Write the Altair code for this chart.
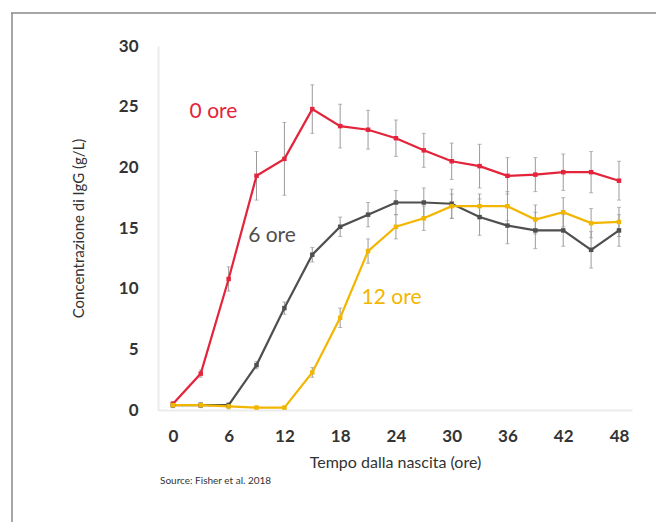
import altair as alt
import pandas as pd

hours = [0, 3, 6, 9, 12, 15, 18, 21, 24, 27, 30, 33, 36, 39, 42, 45, 48]
series_names = ["0 ore", "6 ore", "12 ore"]
igg_0 = [0.5, 3.0, 10.8, 19.3, 20.7, 24.8, 23.4, 23.1, 22.4, 21.4, 20.5, 20.1, 19.3, 19.4, 19.6, 19.6, 18.9]
err_0 = [0.2, 0.3, 1.0, 2.0, 3.0, 2.0, 1.8, 1.6, 1.5, 1.4, 1.5, 1.8, 1.5, 1.4, 1.5, 1.7, 1.6]
igg_6 = [0.4, 0.4, 0.4, 3.7, 8.4, 12.8, 15.1, 16.1, 17.1, 17.1, 17.0, 15.9, 15.2, 14.8, 14.8, 13.2, 14.8]
err_6 = [0.2, 0.2, 0.2, 0.3, 0.5, 0.6, 0.8, 1.0, 1.0, 1.2, 1.2, 1.5, 1.5, 1.5, 1.3, 1.5, 1.3]
igg_12 = [0.4, 0.4, 0.3, 0.2, 0.2, 3.1, 7.6, 13.1, 15.1, 15.8, 16.8, 16.8, 16.8, 15.7, 16.3, 15.4, 15.5]
err_12 = [0.2, 0.2, 0.2, 0.1, 0.1, 0.4, 0.8, 1.0, 1.0, 1.0, 1.0, 1.0, 1.2, 1.2, 1.2, 1.2, 1.2]
colors = ["#e3243b", "#4f4f4f", "#f2b600"]
x_ticks = [0, 6, 12, 18, 24, 30, 36, 42, 48]
y_ticks = [0, 5, 10, 15, 20, 25, 30]
label_x = [1.8, 8.1, 20.3]
label_y = [24.6, 14.3, 9.2]

rows = []
for name, means, errs in zip(series_names, [igg_0, igg_6, igg_12], [err_0, err_6, err_12]):
    for h, m, e in zip(hours, means, errs):
        rows.append({"ore": h, "serie": name, "igg": m, "lo": m - e, "hi": m + e})
df = pd.DataFrame(rows)

xs = alt.Scale(domain=[-1.6, 49.4], nice=False, zero=False)
ys = alt.Scale(domain=[0, 30], nice=False)
cs = alt.Scale(domain=series_names, range=colors)

xaxis = alt.Axis(values=x_ticks, title="Tempo dalla nascita (ore)", grid=False, ticks=False,
                 domainColor="#ebebeb", domainWidth=2, labelFont="Lato", labelFontWeight="bold",
                 labelFontSize=17, labelColor="#333333", labelPadding=18,
                 titleFont="Lato", titleFontWeight="normal", titleFontSize=16, titleColor="#333333",
                 titlePadding=10)
yaxis = alt.Axis(values=y_ticks, title="Concentrazione di IgG (g/L)", grid=False, ticks=False,
                 domainColor="#ebebeb", domainWidth=2, labelFont="Lato", labelFontWeight="bold",
                 labelFontSize=17, labelColor="#333333", labelPadding=20,
                 titleFont="Lato", titleFontWeight="normal", titleFontSize=15, titleColor="#333333",
                 titlePadding=32)

base = alt.Chart(df)

err_rules = base.mark_rule(color="#9a9a9a", strokeWidth=1).encode(
    x=alt.X("ore:Q", scale=xs, axis=xaxis),
    y=alt.Y("lo:Q", scale=ys, axis=yaxis),
    y2="hi:Q",
)
cap_lo = base.mark_tick(color="#9a9a9a", thickness=1, size=4, orient="horizontal").encode(
    x=alt.X("ore:Q", scale=xs), y=alt.Y("lo:Q", scale=ys))
cap_hi = base.mark_tick(color="#9a9a9a", thickness=1, size=4, orient="horizontal").encode(
    x=alt.X("ore:Q", scale=xs), y=alt.Y("hi:Q", scale=ys))

lines = base.mark_line(strokeWidth=2.2, point=alt.OverlayMarkDef(filled=True, size=20, shape="square")).encode(
    x=alt.X("ore:Q", scale=xs),
    y=alt.Y("igg:Q", scale=ys),
    color=alt.Color("serie:N", scale=cs, legend=None),
    order=alt.Order("ore:Q"),
    detail="serie:N",
)

lab_df = pd.DataFrame({"serie": series_names, "x": label_x, "y": label_y})
labels = alt.Chart(lab_df).mark_text(align="left", baseline="middle", fontSize=21, font="Lato").encode(
    x=alt.X("x:Q", scale=xs), y=alt.Y("y:Q", scale=ys),
    text="serie:N",
    color=alt.Color("serie:N", scale=cs, legend=None),
)

src = alt.Chart(pd.DataFrame({"t": ["Source: Fisher et al. 2018"]})).mark_text(
    align="left", baseline="middle", fontSize=10, font="Lato", color="#333333").encode(
    x=alt.value(2), y=alt.value(435), text="t:N")

frame_top = alt.Chart(pd.DataFrame({"a": [0]})).mark_rule(color="#8a8a8a", strokeWidth=1.5).encode(
    x=alt.value(-147), x2=alt.value(498), y=alt.value(-33))
frame_left = alt.Chart(pd.DataFrame({"a": [0]})).mark_rule(color="#8a8a8a", strokeWidth=1.5).encode(
    x=alt.value(-146), y=alt.value(-33), y2=alt.value(476))

chart = alt.layer(frame_top, frame_left, err_rules, cap_lo, cap_hi, lines, labels, src).properties(
    width=474, height=364,
    autosize=alt.AutoSizeParams(type="none"),
    padding={"left": 158, "top": 46, "right": 24, "bottom": 112},
    background="white",
).configure_view(stroke=None)

chart.save("out.html", embed_options={"renderer": "svg", "actions": False})
